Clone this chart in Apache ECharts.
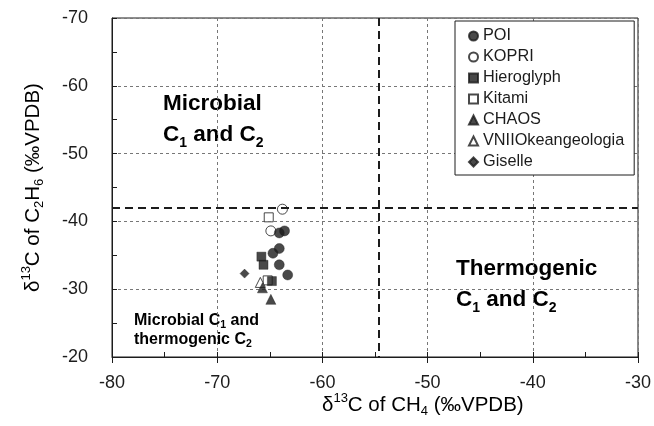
<!DOCTYPE html>
<html>
<head>
<meta charset="utf-8">
<script src="https://cdn.jsdelivr.net/npm/echarts@6/dist/echarts.min.js"></script>
<style>html,body{margin:0;padding:0;background:#fff}#c{width:654px;height:426px}</style>
</head>
<body>
<div id="c"></div>
<script>
// Data (δ13C CH4 = x, δ13C C2H6 = y)
const poiX = [-64.1, -63.6, -64.1, -64.7, -64.1, -63.3];
const poiY = [-38.3, -38.6, -36.0, -35.3, -33.6, -32.1];
const kopriX = [-63.8, -64.9];
const kopriY = [-41.8, -38.6];
const hieroX = [-65.8, -65.6, -64.8];
const hieroY = [-34.8, -33.6, -31.2];
const kitamiX = [-65.1, -65.2];
const kitamiY = [-40.6, -31.3];
const chaosX = [-65.7, -64.9];
const chaosY = [-30.2, -28.5];
const vniiX = [-65.9];
const vniiY = [-31.0];
const giselleX = [-67.4];
const giselleY = [-32.3];
const seriesNames = ['POI', 'KOPRI', 'Hieroglyph', 'Kitami', 'CHAOS', 'VNIIOkeangeologia', 'Giselle'];
const xTicks = [-80, -70, -60, -50, -40, -30];
const yTicks = [-70, -60, -50, -40, -30, -20];
const boundaryCH4 = -54.6;
const boundaryC2H6 = -42;

const FONT = '"Liberation Sans", Arial, sans-serif';
const INK = '#1c1c1c';
function pts(xs, ys) { return xs.map((x, i) => [x, ys[i]]); }

const chart = echarts.init(document.getElementById('c'), null, {renderer: 'canvas'});

function mk(name, data, symbol, filled, z, size) {
  return {
    name: name, type: 'scatter', data: data, symbol: symbol, symbolSize: size || 10, z: z,
    xAxisIndex: 0, yAxisIndex: 0,
    itemStyle: filled ? {color: INK, borderColor: INK, borderWidth: 0.5}
                      : {color: '#fff', borderColor: INK, borderWidth: 1},
    emphasis: {disabled: true}
  };
}

const big = {fontFamily: FONT, fontWeight: 'bold', fontSize: 22.5, color: INK, lineHeight: 31, verticalAlign: 'middle'};
const bigSub = {fontFamily: FONT, fontWeight: 'bold', fontSize: 14, color: INK, lineHeight: 19, verticalAlign: 'bottom'};
const sm = {fontFamily: FONT, fontWeight: 'bold', fontSize: 16, color: INK, lineHeight: 19, verticalAlign: 'middle'};
const smSub = {fontFamily: FONT, fontWeight: 'bold', fontSize: 10.5, color: INK, lineHeight: 11, verticalAlign: 'bottom'};
const ttl = {fontFamily: FONT, fontSize: 20.5, color: INK, lineHeight: 26, verticalAlign: 'middle'};
const ttlSup = {fontFamily: FONT, fontSize: 13, color: INK, lineHeight: 15, verticalAlign: 'top'};
const ttlSub = {fontFamily: FONT, fontSize: 13, color: INK, lineHeight: 15, verticalAlign: 'bottom'};

const series = [
  mk('KOPRI', pts(kopriX, kopriY), 'circle', false, 2),
  mk('Kitami', pts(kitamiX, kitamiY), 'rect', false, 2, 9),
  mk('VNIIOkeangeologia', pts(vniiX, vniiY), 'triangle', false, 2),
  mk('POI', pts(poiX, poiY), 'circle', true, 3),
  mk('Hieroglyph', pts(hieroX, hieroY), 'rect', true, 3, 9),
  mk('CHAOS', pts(chaosX, chaosY), 'triangle', true, 3),
  mk('Giselle', pts(giselleX, giselleY), 'diamond', true, 3, 9)
];
series[3].markLine = {
  silent: true, symbol: ['none', 'none'], label: {show: false},
  lineStyle: {type: [8, 5], width: 2, color: INK},
  data: [{xAxis: boundaryCH4}, {yAxis: boundaryC2H6}]
};

const option = {
  backgroundColor: '#fff',
  animation: false,
  grid: {left: 112, right: 12, top: 18, bottom: 69, show: true, borderColor: INK, borderWidth: 1},
  legend: {
    data: seriesNames, orient: 'vertical', left: 455, top: 21,
    padding: [7, 10, 5, 13], itemGap: 5, itemWidth: 9, itemHeight: 9, itemTextGap: 5,
    borderColor: INK, borderWidth: 1, backgroundColor: '#fff',
    selectedMode: false,
    textStyle: {fontFamily: FONT, fontSize: 16.3, color: INK}
  },
  xAxis: [{
    type: 'value', min: xTicks[0], max: xTicks[xTicks.length - 1], interval: 10,
    axisLine: {show: true, lineStyle: {color: INK, width: 1}},
    axisTick: {show: true, inside: false, length: 6, lineStyle: {color: INK}},
    axisLabel: {margin: 17, fontFamily: FONT, fontSize: 18, color: INK},
    splitLine: {show: true, lineStyle: {type: [3, 3], color: '#777', width: 1}}
  }, {
    type: 'value', min: xTicks[0], max: xTicks[xTicks.length - 1], interval: 5, position: 'bottom',
    axisLine: {show: false}, axisLabel: {show: false}, splitLine: {show: false},
    axisTick: {show: true, inside: true, length: 5, lineStyle: {color: INK}}
  }],
  yAxis: [{
    type: 'value', inverse: true, min: yTicks[0], max: yTicks[yTicks.length - 1], interval: 10,
    axisLine: {show: true, lineStyle: {color: INK, width: 1}},
    axisTick: {show: false},
    axisLabel: {margin: 24, fontFamily: FONT, fontSize: 18, color: INK},
    splitLine: {show: true, lineStyle: {type: [3, 3], color: '#777', width: 1}}
  }, {
    type: 'value', inverse: true, min: yTicks[0], max: yTicks[yTicks.length - 1], interval: 5, position: 'left',
    axisLine: {show: false}, axisLabel: {show: false}, splitLine: {show: false},
    axisTick: {show: true, inside: true, length: 5, lineStyle: {color: INK}}
  }],
  series: series,
  graphic: [
    {type: 'text', left: 163, top: 92, silent: true, style: {
      text: '{b|Microbial}\n{b|C}{bs|1}{b| and C}{bs|2}', rich: {b: big, bs: bigSub}}},
    {type: 'text', left: 456, top: 257, silent: true, style: {
      text: '{b|Thermogenic}\n{b|C}{bs|1}{b| and C}{bs|2}', rich: {b: big, bs: bigSub}}},
    {type: 'text', left: 134, top: 313, silent: true, style: {
      text: '{s|Microbial C}{ss|1}{s| and}\n{s|thermogenic C}{ss|2}', rich: {s: sm, ss: smSub}}},
    {type: 'text', left: 322, top: 392, silent: true, style: {
      text: '{t|δ}{p|13}{t|C of CH}{d|4}{t| (‰VPDB)}', rich: {t: ttl, p: ttlSup, d: ttlSub}}},
    {type: 'text', x: 20, y: 292, rotation: Math.PI / 2, silent: true, style: {
      text: '{t|δ}{p|13}{t|C of C}{d|2}{t|H}{d|6}{t| (‰VPDB)}', rich: {t: ttl, p: ttlSup, d: ttlSub}}}
  ]
};
chart.setOption(option);
</script>
</body>
</html>
